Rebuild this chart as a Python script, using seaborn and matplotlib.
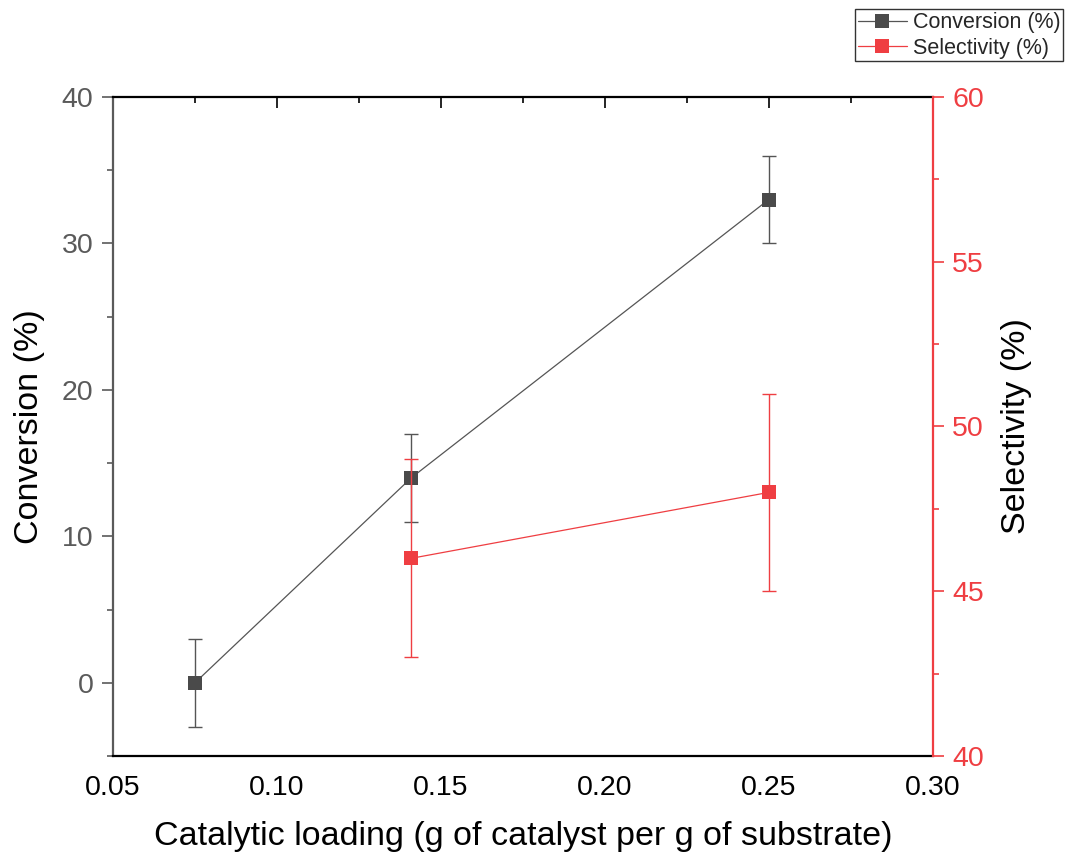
import matplotlib
matplotlib.use("Agg")
import matplotlib.pyplot as plt
from matplotlib.lines import Line2D, TICKDOWN
from matplotlib.ticker import MultipleLocator, AutoMinorLocator, FormatStrFormatter
import seaborn as sns
import pandas as pd

# Conversion and selectivity versus catalytic loading
loading_conv = [0.075, 0.141, 0.25]
conversion = [0.0, 14.0, 33.0]
conversion_err = [3.0, 3.0, 3.0]

loading_sel = [0.141, 0.25]
selectivity = [46.0, 48.0]
selectivity_err = [3.0, 3.0]

conv_color = "#4a4a4a"
sel_color = "#ef3e42"

sns.set_theme(style="white")
plt.rcParams["font.family"] = ["Liberation Sans", "DejaVu Sans"]

fig = plt.figure(figsize=(10.66, 8.63), dpi=100)
ax = fig.add_axes([0.106, 0.124, 0.769, 0.7636])
ax2 = ax.twinx()

df_conv = pd.DataFrame({"x": loading_conv, "y": conversion})
df_sel = pd.DataFrame({"x": loading_sel, "y": selectivity})

# Conversion series (left axis)
ax.errorbar(loading_conv, conversion, yerr=conversion_err, fmt="none",
            ecolor="#555555", elinewidth=1.0, capsize=4.7, capthick=1.0, zorder=2)
sns.lineplot(data=df_conv, x="x", y="y", ax=ax, color="#555555", linewidth=0.9,
             marker="s", markersize=9.5, markerfacecolor=conv_color,
             markeredgewidth=0, zorder=3)

# Selectivity series (right axis)
ax2.errorbar(loading_sel, selectivity, yerr=selectivity_err, fmt="none",
             ecolor=sel_color, elinewidth=1.0, capsize=4.7, capthick=1.0, zorder=2)
sns.lineplot(data=df_sel, x="x", y="y", ax=ax2, color=sel_color, linewidth=0.9,
             marker="s", markersize=9.5, markerfacecolor=sel_color,
             markeredgewidth=0, zorder=3)

ax.set_xlim(0.05, 0.30)
ax.set_ylim(-5, 40)
ax2.set_ylim(40, 60)

ax.xaxis.set_major_locator(MultipleLocator(0.05))
ax.xaxis.set_minor_locator(AutoMinorLocator(2))
ax.yaxis.set_major_locator(MultipleLocator(10))
ax.yaxis.set_minor_locator(AutoMinorLocator(2))
ax2.yaxis.set_major_locator(MultipleLocator(5))
ax2.yaxis.set_minor_locator(AutoMinorLocator(2))
ax.xaxis.set_major_formatter(FormatStrFormatter("%.2f"))

tick_fs = 20.5
label_fs = 24.5
ax.set_xlabel("Catalytic loading (g of catalyst per g of substrate)", fontsize=label_fs,
              color="black", labelpad=14)
ax.set_ylabel("Conversion (%)", fontsize=label_fs, color="black", labelpad=12)
ax2.set_ylabel("Selectivity (%)", fontsize=label_fs, color="black", labelpad=12)

for side in ["top", "bottom"]:
    ax.spines[side].set_color("black")
    ax.spines[side].set_linewidth(1.6)
ax.spines["left"].set_color("#5a5a5a")
ax.spines["left"].set_linewidth(1.6)
ax.spines["right"].set_visible(False)
for side in ["top", "bottom", "left"]:
    ax2.spines[side].set_visible(False)
ax2.spines["right"].set_color(sel_color)
ax2.spines["right"].set_linewidth(1.6)

maj_len, min_len, tw = 8, 4.5, 1.2
ax.tick_params(axis="x", which="major", direction="out", length=maj_len, width=tw,
               colors="black", labelsize=tick_fs, pad=6, top=True)
ax.tick_params(axis="x", which="minor", direction="out", length=min_len, width=tw,
               colors="black", top=True)
ax.tick_params(axis="y", which="major", direction="out", length=maj_len, width=tw,
               colors="#5a5a5a", labelsize=tick_fs, labelcolor="#5a5a5a", pad=6)
ax.tick_params(axis="y", which="minor", direction="out", length=min_len, width=tw,
               colors="#5a5a5a")
ax2.tick_params(axis="y", which="major", direction="out", length=maj_len, width=tw,
                colors=sel_color, labelsize=tick_fs, labelcolor=sel_color, pad=6)
ax2.tick_params(axis="y", which="minor", direction="out", length=min_len, width=tw,
                colors=sel_color)
# Mirrored ticks on the top spine point inward
for t in ax.xaxis.get_major_ticks() + ax.xaxis.get_minor_ticks():
    t.tick2line.set_marker(TICKDOWN)

handles = [
    Line2D([0], [0], color="#555555", linewidth=0.9, marker="s", markersize=10,
           markerfacecolor=conv_color, markeredgewidth=0),
    Line2D([0], [0], color=sel_color, linewidth=0.9, marker="s", markersize=10,
           markerfacecolor=sel_color, markeredgewidth=0),
]
leg = fig.legend(handles, ["Conversion (%)", "Selectivity (%)"],
                 loc="upper right", bbox_to_anchor=(0.997, 0.989),
                 fontsize=15.5, frameon=True, fancybox=False, edgecolor="black",
                 handlelength=2.3, handletextpad=0.25, borderpad=0.12,
                 labelspacing=0.22, borderaxespad=0)
leg.get_frame().set_linewidth(1.0)
ax.grid(False)
ax2.grid(False)

fig.savefig("out.png", dpi=100, facecolor="white")
